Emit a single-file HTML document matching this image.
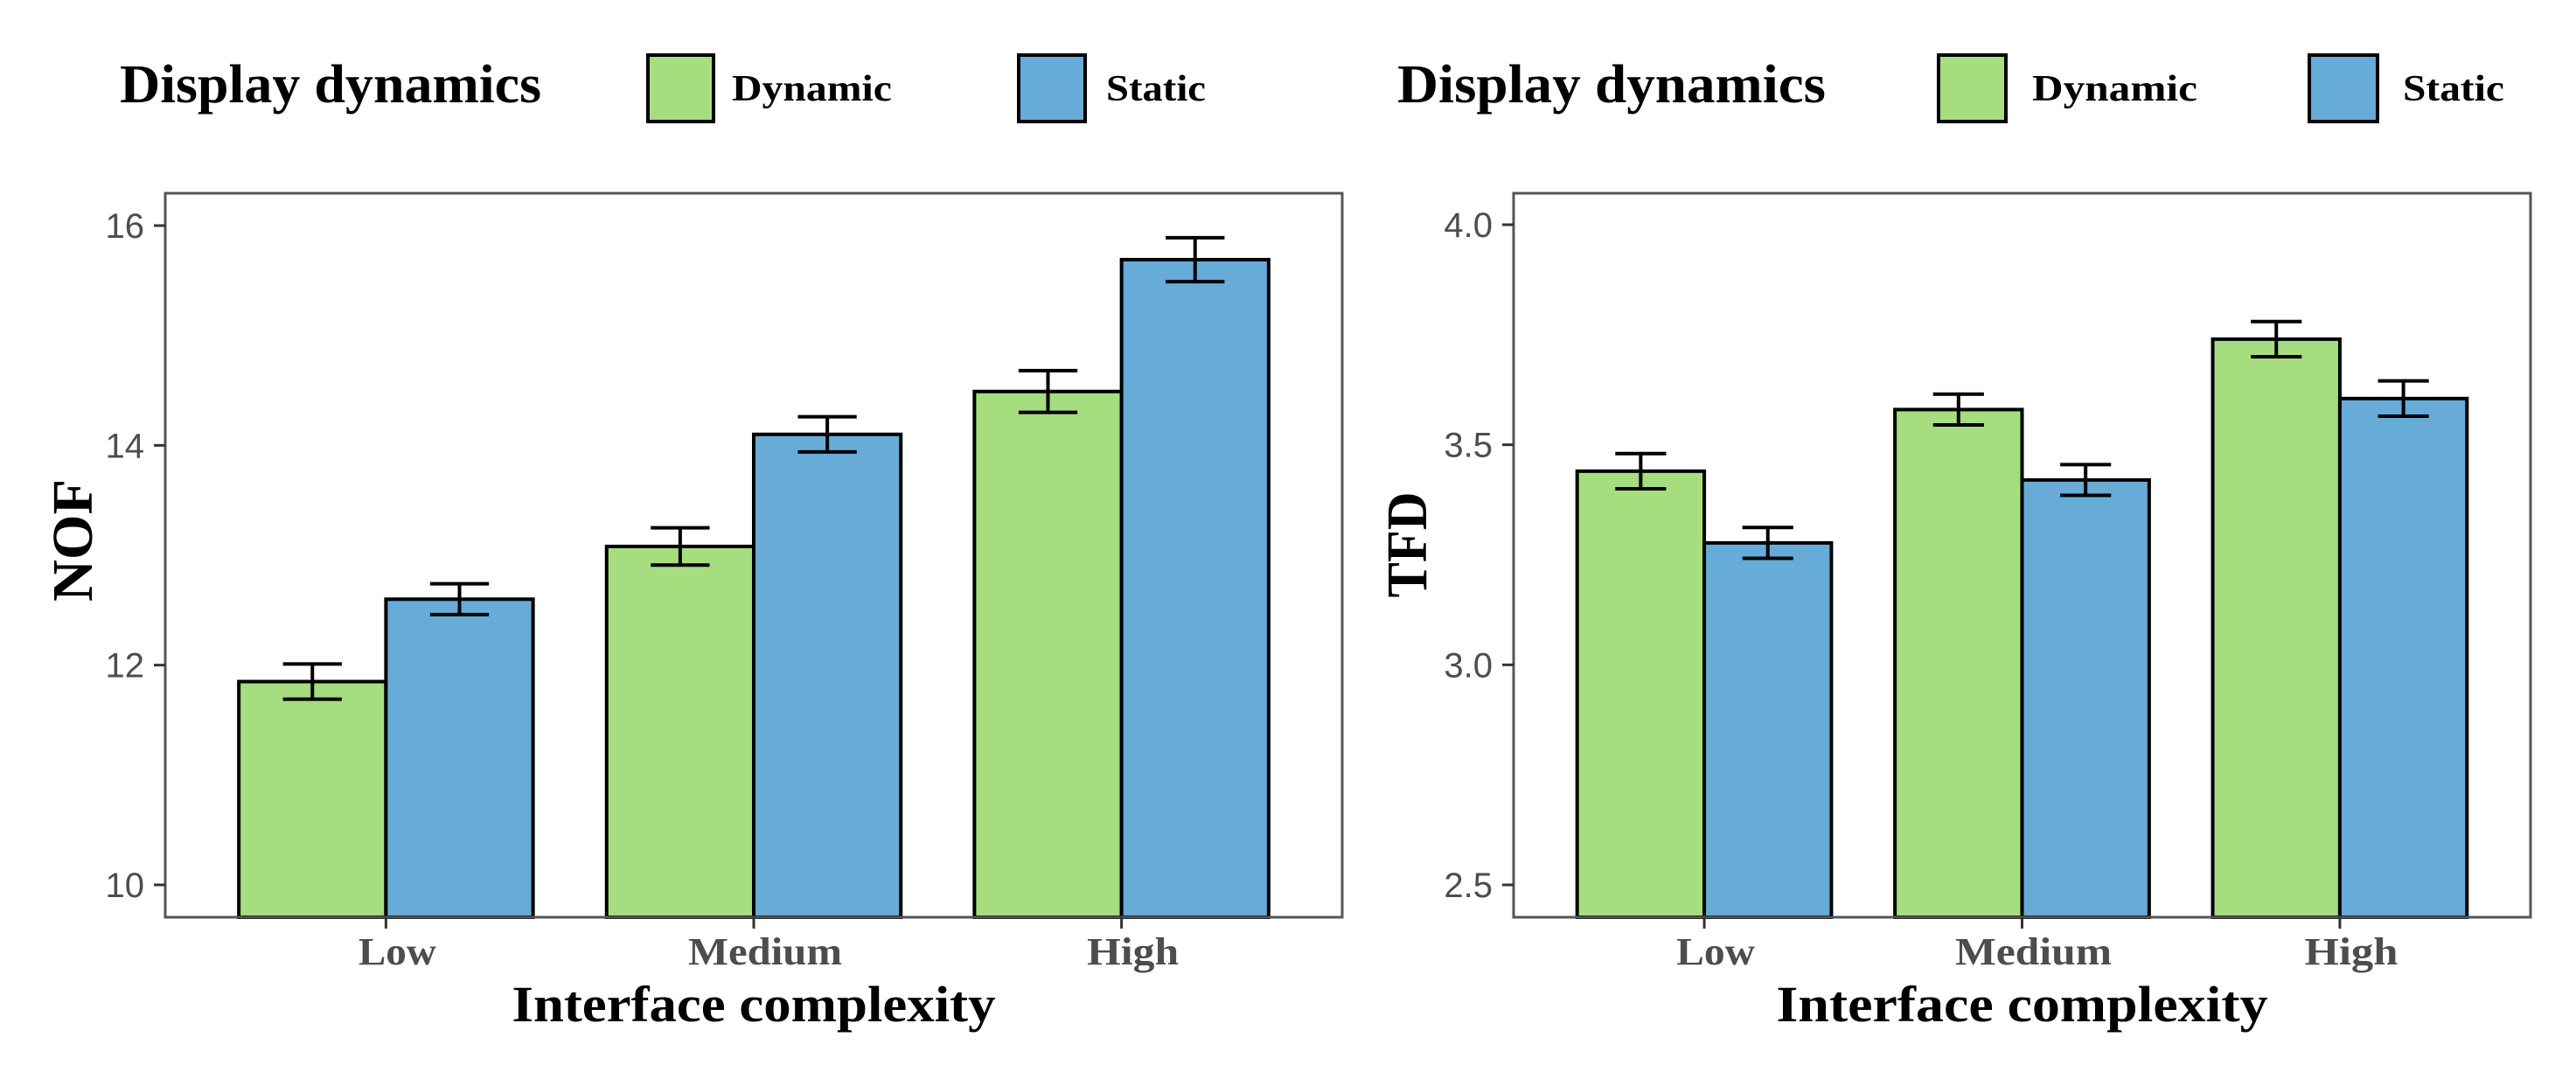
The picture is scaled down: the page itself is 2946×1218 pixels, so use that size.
<!DOCTYPE html>
<html><head><meta charset="utf-8">
<style>
html,body{margin:0;padding:0;background:#fff;}
svg{display:block;}
</style></head>
<body>
<svg id="chart" width="2946" height="1218" xmlns="http://www.w3.org/2000/svg"></svg>
<script>
const categories = ["Low", "Medium", "High"];
const seriesNames = ["Dynamic", "Static"];
const nofDynamic = [11.85, 13.08, 14.49];
const nofStatic = [12.6, 14.1, 15.69];
const nofDynamicErr = [0.16, 0.17, 0.19];
const nofStaticErr = [0.14, 0.16, 0.2];
const tfdDynamic = [3.44, 3.58, 3.74];
const tfdStatic = [3.277, 3.42, 3.605];
const tfdDynamicErr = [0.04, 0.035, 0.04];
const tfdStaticErr = [0.035, 0.035, 0.04];
const nofTicks = [10, 12, 14, 16];
const nofTickLabels = ["10", "12", "14", "16"];
const tfdTicks = [2.5, 3.0, 3.5, 4.0];
const tfdTickLabels = ["2.5", "3.0", "3.5", "4.0"];

const NS = "http://www.w3.org/2000/svg";
const svg = document.getElementById("chart");
const colors = ["#A6DD7F", "#67ABD8"];
function mk(tag, attrs, parent, text) {
  const e = document.createElementNS(NS, tag);
  for (const k in attrs) e.setAttribute(k, attrs[k]);
  if (text !== undefined) e.textContent = text;
  (parent || svg).appendChild(e);
  return e;
}

function panel(cfg) {
  const g = mk("g", {});
  
  
  const L = cfg.left, R = cfg.right, T = 221, B = 1049;
  const unit = (R - L) / 3.2;
  const xc = i => L + (i + 0.6) * unit;
  const y = v => cfg.y0px + (v - cfg.v0) * (cfg.y1px - cfg.y0px) / (cfg.v1 - cfg.v0);

  // legend
  const lt = mk("text", {x: cfg.leg.title[0], y: 117, "font-family": "Liberation Serif, serif", "font-weight": "bold", "font-size": 62, fill: "#000", textLength: cfg.leg.title[1], lengthAdjust: "spacingAndGlyphs"}, g, "Display dynamics");
  
  
  for (let s = 0; s < 2; s++) {
    const kb = cfg.leg.keys[s];
    const r = mk("rect", {x: kb[0], y: 63, width: kb[1] - kb[0], height: 76, fill: colors[s], stroke: "#000", "stroke-width": 4}, g);
    
    
    const t = mk("text", {x: kb[2], y: 115, "font-family": "Liberation Serif, serif", "font-weight": "bold", "font-size": 42, fill: "#000", textLength: kb[3] - kb[2], lengthAdjust: "spacingAndGlyphs"}, g, seriesNames[s]);
    
    
  }

  // bars
  const vals = [cfg.dyn, cfg.sta], errs = [cfg.dynErr, cfg.staErr];
  const half = 0.4 * unit, cap = 0.08 * unit;
  for (let i = 0; i < categories.length; i++) {
    for (let s = 0; s < 2; s++) {
      const x0 = s === 0 ? xc(i) - half : xc(i);
      const yt = y(vals[s][i]);
      const r = mk("rect", {x: x0, y: yt, width: half, height: B - yt, fill: colors[s], stroke: "#000", "stroke-width": 4}, g);
      
      
    }
  }
  for (let i = 0; i < categories.length; i++) {
    for (let s = 0; s < 2; s++) {
      const cx = s === 0 ? xc(i) - half / 2 : xc(i) + half / 2;
      const hi = y(vals[s][i] + errs[s][i]), lo = y(vals[s][i] - errs[s][i]);
      const eb = mk("path", {d: `M${cx - cap},${hi}H${cx + cap}M${cx},${hi}V${lo}M${cx - cap},${lo}H${cx + cap}`, stroke: "#000", "stroke-width": 4, fill: "none"}, g);
      
      
    }
  }
  // frame
  const fr = mk("rect", {x: L, y: T, width: R - L, height: B - T, fill: "none", stroke: "#555", "stroke-width": 3}, g);
  
  

  // y ticks
  for (let k = 0; k < cfg.ticks.length; k++) {
    const ty = y(cfg.ticks[k]);
    mk("line", {x1: L - 13, x2: L, y1: ty, y2: ty, stroke: "#333", "stroke-width": 3}, g);
    const tl = mk("text", {x: L - 24, y: ty + 14, "text-anchor": "end", "font-family": "Liberation Sans, sans-serif", "font-size": 40, fill: "#4d4d4d"}, g, cfg.tickLabels[k]);
    
    
  }
  // x ticks
  for (let i = 0; i < categories.length; i++) {
    mk("line", {x1: xc(i), x2: xc(i), y1: B, y2: B + 13, stroke: "#333", "stroke-width": 3}, g);
    const tl = mk("text", {x: xc(i) + 13, y: 1103, "text-anchor": "middle", "font-family": "Liberation Serif, serif", "font-weight": "bold", "font-size": 44, fill: "#4d4d4d", textLength: cfg.xlabW[i], lengthAdjust: "spacingAndGlyphs"}, g, categories[i]);
    
    
  }
  const xt = mk("text", {x: (L + R) / 2, y: 1168, "text-anchor": "middle", "font-family": "Liberation Serif, serif", "font-weight": "bold", "font-size": 58, fill: "#000", textLength: cfg.xTitleW, lengthAdjust: "spacingAndGlyphs"}, g, "Interface complexity");
  
  
  const yt = mk("text", {x: 0, y: 0, "text-anchor": "middle", "font-family": "Liberation Serif, serif", "font-weight": "bold", "font-size": 66, fill: "#000", textLength: cfg.yTitle[3], lengthAdjust: "spacingAndGlyphs", transform: `translate(${cfg.yTitle[1]},${cfg.yTitle[2]}) rotate(-90)`}, g, cfg.yTitle[0]);
  
  
}

panel({name: "nof-panel", left: 189, right: 1535, y0px: 1012, v0: 10, y1px: 258, v1: 16,
  dyn: nofDynamic, sta: nofStatic, dynErr: nofDynamicErr, staErr: nofStaticErr,
  ticks: nofTicks, tickLabels: nofTickLabels, xlabW: [89, 176, 105], xTitleW: 553,
  yTitle: ["NOF", 105, 618, 140],
  leg: {title: [137, 482], keys: [[741, 816, 837, 1020], [1165, 1241, 1265, 1379]]}});
panel({name: "tfd-panel", left: 1731, right: 2894, y0px: 1012, v0: 2.5, y1px: 257, v1: 4.0,
  dyn: tfdDynamic, sta: tfdStatic, dynErr: tfdDynamicErr, staErr: tfdStaticErr,
  ticks: tfdTicks, tickLabels: tfdTickLabels, xlabW: [90, 179, 107], xTitleW: 562,
  yTitle: ["TFD", 1631, 623, 121],
  leg: {title: [1598, 490], keys: [[2217, 2294, 2324, 2513], [2641, 2719, 2748, 2864]]}});
</script>
</body></html>
